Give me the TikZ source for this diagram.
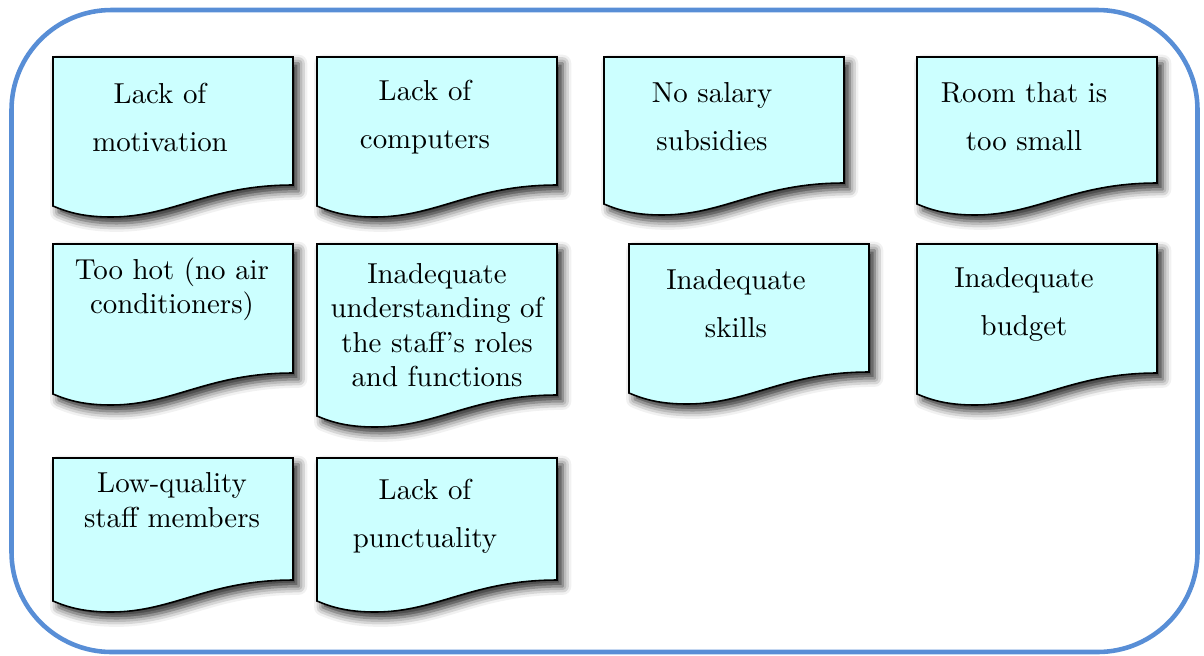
\documentclass[tikz,border=0pt]{standalone}
\usetikzlibrary{shadows.blur}

\definecolor{cardfill}{RGB}{204,255,255}
\definecolor{frameblue}{RGB}{88,142,214}

\newcommand\notecard[3]{%
\draw[card] (#1,#2) -- (#1+240,#2) -- (#1+240,#3)
  .. controls (#1+155,#3) and (#1+120,#3+32) .. (#1+58,#3+32)
  .. controls (#1+28,#3+32) and (#1+12,#3+26) .. (#1,#3+21) -- cycle;}

\begin{document}
\begin{tikzpicture}[x=0.35pt,y=-0.35pt,
  card/.style={draw=black,line width=0.55pt,fill=cardfill,
    blur shadow={shadow xshift=2pt,shadow yshift=-2.2pt,shadow blur radius=3pt,shadow opacity=85}},
  cardtext/.style={align=center,font=\fontsize{10.1}{12}\selectfont},
  loose/.style={cardtext,font=\fontsize{10.1}{16.8}\selectfont}]

\useasboundingbox (0,0) rectangle (1204,655);
\draw[frameblue,line width=1.6pt,rounded corners=35pt] (11.5,10) rectangle (1197.5,652);

\notecard{53}{57}{185}
\notecard{317}{57}{185}
\notecard{604}{57}{183}
\notecard{917}{57}{183}

\notecard{53}{244}{373}
\notecard{317}{244}{395}
\notecard{629}{244}{372}
\notecard{917}{244}{373}

\notecard{53}{458}{580}
\notecard{317}{458}{580}

\node[loose] (motivation) at (160,117) {Lack of\\motivation};
\node[loose] (computers) at (425,117) {Lack of\\computers};
\node[loose] (salary) at (712,117) {No salary\\subsidies};
\node[loose] (room) at (1024,117) {Room that is\\too small};

\node[cardtext] (hot) at (172,289) {Too hot (no air\\conditioners)};
\node[cardtext] (roles) at (437,325) {Inadequate\\understanding of\\the staff's roles\\and functions};
\node[loose] (skills) at (736,304) {Inadequate\\skills};
\node[loose] (budget) at (1024,304) {Inadequate\\budget};

\node[cardtext] (quality) at (172,500) {Low-quality\\staff members};
\node[loose] (punctuality) at (425,516) {Lack of\\punctuality};
\end{tikzpicture}
\end{document}
